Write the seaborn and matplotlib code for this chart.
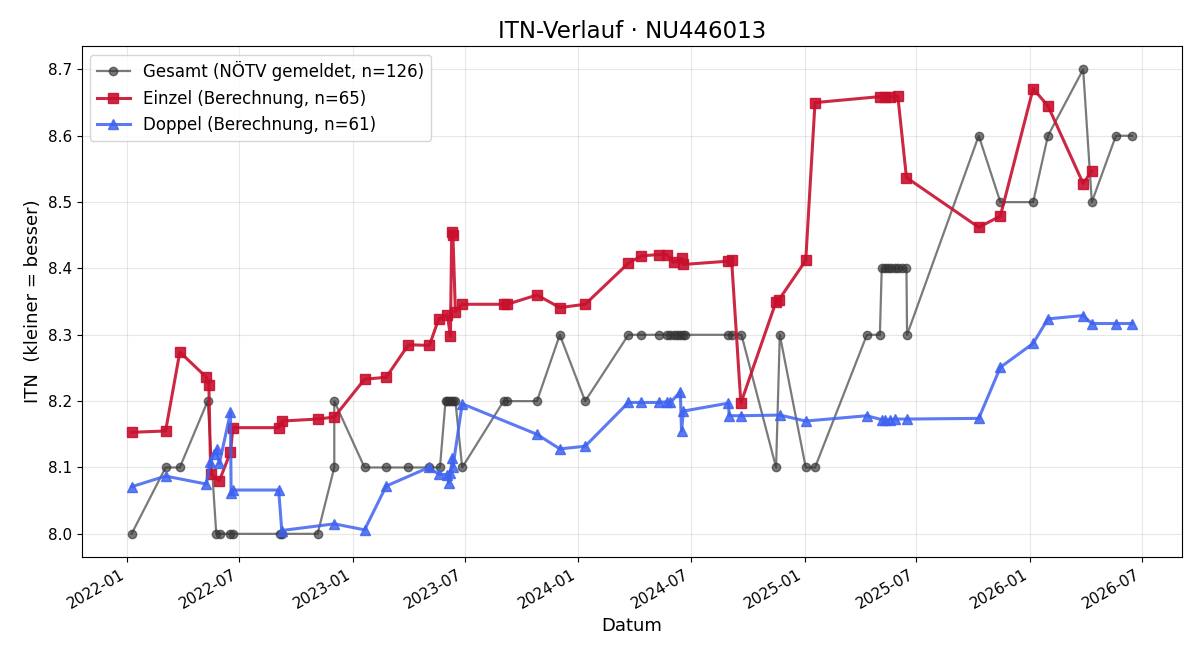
import matplotlib
matplotlib.use("Agg")
import matplotlib.pyplot as plt
import matplotlib.dates as mdates
import pandas as pd
import seaborn as sns

# ITN values
gesamt_dates = [
    "2022-01-08", "2022-03-04", "2022-03-27", "2022-05-11", "2022-05-25", "2022-05-31",
    "2022-06-17", "2022-06-21", "2022-09-05", "2022-09-08", "2022-11-05", "2022-12-02",
    "2022-12-02", "2023-01-20", "2023-02-24", "2023-04-01", "2023-05-04", "2023-05-22",
    "2023-05-31", "2023-06-03", "2023-06-06", "2023-06-09", "2023-06-12", "2023-06-16",
    "2023-06-27", "2023-09-02", "2023-09-08", "2023-10-26", "2023-12-02", "2024-01-12",
    "2024-03-22", "2024-04-12", "2024-05-11", "2024-05-23", "2024-05-29", "2024-06-03",
    "2024-06-08", "2024-06-13", "2024-06-18", "2024-06-22", "2024-08-31", "2024-09-05",
    "2024-09-21", "2024-11-16", "2024-11-22", "2025-01-03", "2025-01-18", "2025-04-12",
    "2025-05-03", "2025-05-06", "2025-05-11", "2025-05-16", "2025-05-21", "2025-05-27",
    "2025-06-01", "2025-06-07", "2025-06-15", "2025-06-16", "2025-10-10", "2025-11-14",
    "2026-01-06", "2026-01-30", "2026-03-28", "2026-04-11", "2026-05-20", "2026-06-15",
]
gesamt_itn = [
    8.0, 8.1, 8.1, 8.2, 8.0, 8.0,
    8.0, 8.0, 8.0, 8.0, 8.0, 8.1,
    8.2, 8.1, 8.1, 8.1, 8.1, 8.1,
    8.2, 8.2, 8.2, 8.2, 8.2, 8.2,
    8.1, 8.2, 8.2, 8.2, 8.3, 8.2,
    8.3, 8.3, 8.3, 8.3, 8.3, 8.3,
    8.3, 8.3, 8.3, 8.3, 8.3, 8.3,
    8.3, 8.1, 8.3, 8.1, 8.1, 8.3,
    8.3, 8.4, 8.4, 8.4, 8.4, 8.4,
    8.4, 8.4, 8.4, 8.3, 8.6, 8.5,
    8.5, 8.6, 8.7, 8.5, 8.6, 8.6,
]

einzel_dates = [
    "2022-01-08", "2022-03-04", "2022-03-27", "2022-05-09", "2022-05-13", "2022-05-16",
    "2022-05-30", "2022-06-17", "2022-06-21", "2022-09-03", "2022-09-09", "2022-11-05",
    "2022-12-02", "2023-01-20", "2023-02-24", "2023-04-01", "2023-05-05", "2023-05-20",
    "2023-06-03", "2023-06-08", "2023-06-10", "2023-06-12", "2023-06-16", "2023-06-27",
    "2023-09-02", "2023-09-08", "2023-10-26", "2023-12-02", "2024-01-12", "2024-03-22",
    "2024-04-12", "2024-05-11", "2024-05-23", "2024-06-03", "2024-06-16", "2024-06-19",
    "2024-08-31", "2024-09-05", "2024-09-20", "2024-11-16", "2024-11-20", "2025-01-03",
    "2025-01-18", "2025-05-03", "2025-05-11", "2025-05-19", "2025-06-01", "2025-06-15",
    "2025-10-10", "2025-11-14", "2026-01-06", "2026-01-30", "2026-03-28", "2026-04-11",
]
einzel_itn = [
    8.153, 8.155, 8.274, 8.236, 8.225, 8.090,
    8.080, 8.123, 8.160, 8.160, 8.170, 8.173,
    8.176, 8.233, 8.236, 8.285, 8.284, 8.324,
    8.330, 8.298, 8.455, 8.450, 8.335, 8.346,
    8.346, 8.346, 8.360, 8.341, 8.346, 8.408,
    8.419, 8.421, 8.421, 8.409, 8.415, 8.406,
    8.411, 8.413, 8.197, 8.350, 8.352, 8.412,
    8.650, 8.659, 8.659, 8.659, 8.660, 8.537,
    8.462, 8.479, 8.671, 8.645, 8.528, 8.547,
]

doppel_dates = [
    "2022-01-08", "2022-03-04", "2022-05-09", "2022-05-15", "2022-05-21", "2022-05-26",
    "2022-05-30", "2022-06-17", "2022-06-18", "2022-06-21", "2022-09-03", "2022-09-08",
    "2022-12-02", "2023-01-20", "2023-02-24", "2023-05-04", "2023-05-20", "2023-06-03",
    "2023-06-05", "2023-06-08", "2023-06-11", "2023-06-12", "2023-06-27", "2023-10-26",
    "2023-12-02", "2024-01-12", "2024-03-22", "2024-04-12", "2024-05-11", "2024-05-23",
    "2024-05-29", "2024-06-14", "2024-06-16", "2024-06-19", "2024-08-31", "2024-09-01",
    "2024-09-20", "2024-11-22", "2025-01-03", "2025-04-12", "2025-05-06", "2025-05-11",
    "2025-05-19", "2025-05-27", "2025-06-16", "2025-10-10", "2025-11-14", "2026-01-06",
    "2026-01-30", "2026-03-28", "2026-04-11", "2026-05-20", "2026-06-15",
]
doppel_itn = [
    8.071, 8.087, 8.075, 8.108, 8.121, 8.128,
    8.106, 8.183, 8.061, 8.066, 8.066, 8.005,
    8.015, 8.006, 8.072, 8.100, 8.090, 8.089,
    8.077, 8.091, 8.115, 8.101, 8.196, 8.150,
    8.128, 8.132, 8.198, 8.198, 8.198, 8.199,
    8.198, 8.214, 8.155, 8.185, 8.197, 8.178,
    8.178, 8.179, 8.170, 8.178, 8.172, 8.172,
    8.172, 8.173, 8.173, 8.174, 8.251, 8.287,
    8.324, 8.329, 8.317, 8.317, 8.317,
]

fig, ax = plt.subplots(figsize=(12, 6.6), dpi=100)

series = [
    (gesamt_dates, gesamt_itn, "Gesamt (NÖTV gemeldet, n=126)", "#333333", "o", 0.65, 1.6, 6),
    (einzel_dates, einzel_itn, "Einzel (Berechnung, n=65)", "#C8102E", "s", 0.9, 2.2, 7),
    (doppel_dates, doppel_itn, "Doppel (Berechnung, n=61)", "#3F63F0", "^", 0.85, 2.2, 7),
]
for dates, vals, label, col, mk, a, lw, ms in series:
    sns.lineplot(x=pd.to_datetime(dates), y=vals, ax=ax, estimator=None, sort=False,
                 color=col, alpha=a, linewidth=lw, marker=mk, markersize=ms,
                 markeredgecolor=col, markeredgewidth=1, label=label)

ax.set_title("ITN-Verlauf · NU446013", fontsize=16.5)
ax.set_xlabel("Datum", fontsize=13)
ax.set_ylabel("ITN  (kleiner = besser)", fontsize=13)
ax.tick_params(labelsize=11)
ax.xaxis.set_major_locator(mdates.MonthLocator(bymonth=[1, 7]))
ax.xaxis.set_major_formatter(mdates.DateFormatter("%Y-%m"))
ax.grid(True, alpha=0.3)
ax.legend(loc="upper left", fontsize=12)
fig.autofmt_xdate()
fig.subplots_adjust(left=0.068, right=0.985, top=0.93, bottom=0.156)

plt.savefig("out.png")
